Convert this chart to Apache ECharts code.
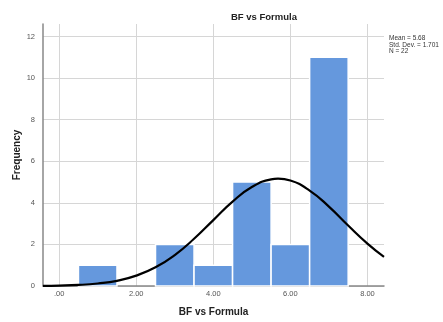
<!DOCTYPE html>
<html><head><meta charset="utf-8">
<script src="https://cdn.jsdelivr.net/npm/echarts@6/dist/echarts.min.js"></script>
<style>html,body{margin:0;padding:0;background:#fff}#c{width:443px;height:322px}</style>
</head><body><div id="c"></div>
<script>
// Histogram bins (start, end) and frequencies
const binStarts = [0.5, 2.5, 3.5, 4.5, 5.5, 6.5];
const binEnds   = [1.5, 3.5, 4.5, 5.5, 6.5, 7.5];
const frequencies = [1, 2, 1, 5, 2, 11];
// Normal curve
const curveX = [-0.42, 0, 0.5, 1, 1.5, 2, 2.5, 3, 3.5, 4, 4.5, 5, 5.5, 5.68, 6, 6.5, 7, 7.5, 8, 8.43];
const curveY = [0.01, 0.02, 0.05, 0.12, 0.25, 0.50, 0.90, 1.49, 2.27, 3.17, 4.06, 4.76, 5.13, 5.16, 5.07, 4.59, 3.82, 2.91, 2.04, 1.40];
const xTicks = [0, 2, 4, 6, 8];
const xTickLabels = ['.00', '2.00', '4.00', '6.00', '8.00'];
const yTicks = [0, 2, 4, 6, 8, 10, 12];
const statsLines = ['Mean = 5.68', 'Std. Dev. = 1.701', 'N = 22'];

const chart = echarts.init(document.getElementById('c'));
const font = 'Liberation Sans, Arial, sans-serif';
chart.setOption({
  animation: false,
  title: { text: 'BF vs Formula', left: 226, top: 7,
    textStyle: { fontSize: 9.5, fontWeight: 'bold', color: '#222', fontFamily: font } },
  grid: { left: 43, right: 59, top: 24, bottom: 31.3 },
  xAxis: {
    type: 'value', min: -0.42, max: 8.43,
    name: 'BF vs Formula', nameLocation: 'middle', nameGap: 21, nameMoveOverlap: false,
    nameTextStyle: { fontSize: 10, fontWeight: 'bold', color: '#222', fontFamily: font },
    axisLine: { show: true, onZero: false, lineStyle: { color: '#888', width: 1.5 } },
    axisTick: { show: false, customValues: xTicks },
    axisLabel: { customValues: xTicks, margin: 4, fontSize: 7.5, color: '#555', fontFamily: font,
      formatter: v => xTickLabels[xTicks.indexOf(v)] || '' },
    splitLine: { show: true, lineStyle: { color: '#d6d6d6', width: 1 } }
  },
  yAxis: {
    type: 'value', min: 0, max: 12.6,
    name: 'Frequency', nameLocation: 'middle', nameGap: 21, nameRotate: 90, nameMoveOverlap: false,
    nameTextStyle: { fontSize: 10, fontWeight: 'bold', color: '#222', fontFamily: font },
    axisLine: { show: true, onZero: false, lineStyle: { color: '#888', width: 1.5 } },
    axisTick: { show: false, customValues: yTicks },
    axisLabel: { customValues: yTicks, margin: 8, fontSize: 7.5, color: '#555', fontFamily: font },
    splitLine: { show: true, lineStyle: { color: '#d6d6d6', width: 1 } }
  },
  graphic: [{
    type: 'text', left: 389, top: 35,
    style: { text: statsLines.join('\n'), fontSize: 6.5, lineHeight: 6.5, fill: '#333', fontFamily: font }
  }],
  series: [{
    type: 'custom',
    data: binStarts.map((s, i) => [s, binEnds[i], frequencies[i]]),
    encode: { x: [0, 1], y: 2 },
    renderItem: (params, api) => {
      const p0 = api.coord([api.value(0), api.value(2)]);
      const p1 = api.coord([api.value(1), 0]);
      return { type: 'rect',
        shape: { x: p0[0], y: p0[1], width: p1[0] - p0[0], height: p1[1] - p0[1] },
        style: { fill: '#6598dd', stroke: '#ffffff', lineWidth: 1.5 } };
    },
    z: 2
  }, {
    type: 'line', smooth: true, symbol: 'none',
    data: curveX.map((x, i) => [x, curveY[i]]),
    lineStyle: { color: '#000', width: 2.2 }, z: 3
  }]
});
</script></body></html>
